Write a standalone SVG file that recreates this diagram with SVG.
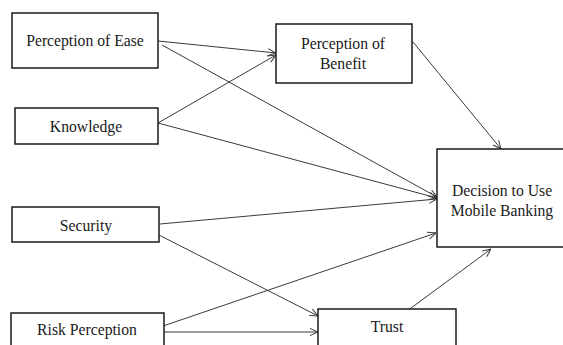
<svg xmlns="http://www.w3.org/2000/svg" width="563" height="345" viewBox="0 0 563 345">
<defs>
<style>
.box{fill:#fff;stroke:#1a1a1a;stroke-width:1.5}
.lbl{font-family:"Liberation Serif","Times New Roman",serif;font-size:15.7px;fill:#1a1a1a;text-anchor:middle}
.edge{stroke:#3a3a3a;stroke-width:1;fill:none;marker-end:url(#arr)}
</style>
<marker id="arr" viewBox="0 0 10 10" refX="10" refY="5" markerWidth="9" markerHeight="9" markerUnits="userSpaceOnUse" orient="auto">
<path d="M1,1 L10,5 L1,9" fill="none" stroke="#3a3a3a" stroke-width="1.1"/>
</marker>
</defs>
<rect width="563" height="345" fill="#fff"/>
<g id="connectors">
<line class="edge" x1="158" y1="41" x2="276" y2="53"/>
<line class="edge" x1="162" y1="45" x2="437" y2="197"/>
<line class="edge" x1="158" y1="123" x2="276" y2="55"/>
<line class="edge" x1="158" y1="123" x2="437" y2="198"/>
<line class="edge" x1="413" y1="42" x2="501" y2="149"/>
<line class="edge" x1="160" y1="224" x2="437" y2="199"/>
<line class="edge" x1="157" y1="234" x2="318" y2="316"/>
<line class="edge" x1="163" y1="326" x2="436" y2="233"/>
<line class="edge" x1="161" y1="332" x2="318" y2="332"/>
<line class="edge" x1="407" y1="311" x2="491" y2="249"/>
</g>
<g id="ease"><rect class="box" x="12" y="13" width="146" height="55"/><text class="lbl" x="85" y="46">Perception of Ease</text></g>
<g id="knowledge"><rect class="box" x="15" y="108" width="143" height="36"/><text class="lbl" x="86" y="132">Knowledge</text></g>
<g id="benefit"><rect class="box" x="276" y="24" width="136" height="59"/><text class="lbl" x="343" y="49">Perception of</text><text class="lbl" x="343" y="69">Benefit</text></g>
<g id="decision"><rect class="box" x="437" y="149" width="130" height="98"/><text class="lbl" x="502" y="196">Decision to Use</text><text class="lbl" x="502" y="216">Mobile Banking</text></g>
<g id="security"><rect class="box" x="12" y="207" width="147" height="35"/><text class="lbl" x="86" y="231">Security</text></g>
<g id="risk"><rect class="box" x="11" y="313" width="153" height="40"/><text class="lbl" x="87" y="335">Risk Perception</text></g>
<g id="trust"><rect class="box" x="318" y="309" width="138" height="44"/><text class="lbl" x="387" y="332">Trust</text></g>
</svg>
